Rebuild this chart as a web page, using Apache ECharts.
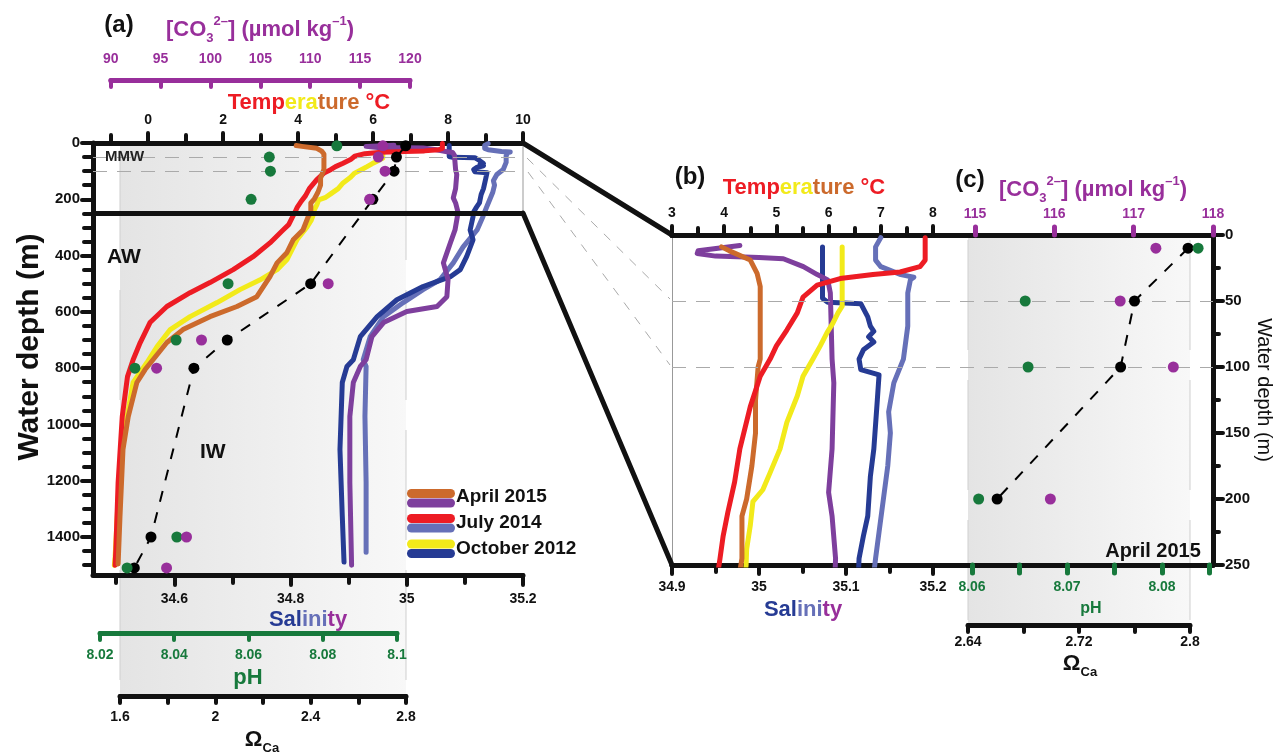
<!DOCTYPE html>
<html><head><meta charset="utf-8">
<script src="https://cdn.jsdelivr.net/npm/echarts@6/dist/echarts.min.js"></script>
<style>html,body{margin:0;padding:0;background:#fff}#c{width:1275px;height:753px}</style>
</head><body><div id="c"></div>
<script>
// ---------------- DATA (value, depth in m) ----------------
const tempApril2015 = [[3.95,9],[4.1,12],[4.5,19],[4.63,29],[4.69,39],[4.69,94],[4.65,100],[4.6,125],[4.6,150],[4.53,175],[4.43,200],[4.34,213],[4.34,245],[4.27,262],[4.13,309],[3.87,344],[3.7,390],[3.44,426],[3.25,475],[2.9,546],[2.37,581],[1.65,617],[0.93,663],[0.5,709],[0.13,770],[-0.08,805],[-0.3,851],[-0.53,972],[-0.67,1089],[-0.75,1326],[-0.8,1496]];
const tempJuly2014 = [[7.85,2],[7.85,19],[7.75,24],[7.37,28],[6.85,30],[6.22,33],[5.78,38],[5.51,47],[5.4,59],[5.2,72],[5.0,84],[4.88,94],[4.69,107],[4.5,130],[4.3,162],[4.2,187],[4.07,210],[3.98,228],[3.92,245],[3.75,290],[3.6,309],[3.25,355],[2.8,404],[2.27,450],[1.65,496],[1.12,532],[0.5,581],[0.05,638],[-0.21,709],[-0.4,770],[-0.55,830],[-0.69,972],[-0.8,1206],[-0.86,1443],[-0.88,1500]];
const tempOctober2012 = [[6.26,9],[6.26,54],[6.18,59],[6.08,67],[5.97,74],[5.84,84],[5.7,94],[5.51,107],[5.4,122],[5.2,142],[5.07,162],[4.88,180],[4.74,193],[4.55,202],[4.5,220],[4.43,238],[4.42,250],[4.35,275],[4.24,298],[3.97,344],[3.7,415],[3.44,450],[2.99,486],[2.45,521],[1.84,567],[1.12,617],[0.59,663],[0.24,723],[-0.03,780],[-0.4,851],[-0.56,972],[-0.69,1089],[-0.8,1266],[-0.88,1468],[-0.9,1500]];
const salApril2015 = [[34.978,8],[34.93,12],[34.929,14],[34.95,16],[35.0,17],[35.028,18],[35.051,24],[35.067,30],[35.079,34],[35.082,44],[35.084,94],[35.086,112],[35.084,162],[35.08,195],[35.084,213],[35.088,245],[35.087,262],[35.083,309],[35.075,355],[35.063,426],[35.071,486],[35.069,546],[35.052,581],[35.0,599],[34.96,638],[34.94,688],[34.93,770],[34.92,794],[34.908,851],[34.902,972],[34.902,1206],[34.905,1500]];
const salJuly2014 = [[35.14,2],[35.134,9],[35.134,19],[35.14,24],[35.163,30],[35.178,32],[35.174,34],[35.171,44],[35.171,69],[35.166,94],[35.155,112],[35.149,134],[35.151,150],[35.148,175],[35.143,200],[35.138,225],[35.134,245],[35.131,262],[35.121,309],[35.097,369],[35.08,426],[35.057,486],[35.028,521],[34.994,567],[34.96,617],[34.937,688],[34.925,770],[34.93,794],[34.928,972],[34.93,1206],[34.93,1454]];
const salOctober2012 = [[35.073,9],[35.073,48],[35.079,51],[35.117,52],[35.125,62],[35.128,69],[35.132,73],[35.126,77],[35.132,81],[35.12,87],[35.115,94],[35.117,102],[35.138,106],[35.136,125],[35.132,162],[35.128,183],[35.125,213],[35.12,228],[35.115,245],[35.114,262],[35.109,309],[35.114,344],[35.103,404],[35.092,450],[35.075,475],[35.028,510],[34.983,557],[34.949,617],[34.92,688],[34.908,770],[34.897,794],[34.889,851],[34.885,1089],[34.889,1326],[34.892,1489]];

const stationDepths = [10, 50, 100, 200, 500, 700, 800, 1400, 1510];
const pHApril2015 = [8.0838, 8.0656, 8.0659, 8.0607, 8.0545, 8.0405, 8.0294, 8.0407, 8.0273];
const co3April2015 = [117.28, 116.83, 117.5, 115.95, 111.8, 99.1, 94.6, 97.6, 95.6];
const omegaApril2015 = [2.7986, 2.760, 2.750, 2.661, 2.40, 2.05, 1.91, 1.73, 1.66];

// ---------------- TICKS ----------------
const tempTicksA = [0,2,4,6,8,10], tempMinorA = [-1,1,3,5,7,9];
const salTicksA = [34.6,34.8,35,35.2], salMinorA = [34.5,34.7,34.9,35.1];
const depthTicksA = [0,200,400,600,800,1000,1200,1400];
const depthMinorA = [50,100,150,250,300,350,450,500,550,650,700,750,850,900,950,1050,1100,1150,1250,1300,1350,1450,1500];
const pHTicksA = [8.02,8.04,8.06,8.08,8.1];
const co3TicksA = [90,95,100,105,110,115,120];
const omegaTicksA = [1.6,1.8,2,2.2,2.4,2.6,2.8], omegaLabelsA = [1.6,2,2.4,2.8];
const tempTicksB = [3,4,5,6,7,8], tempMinorB = [3.5,4.5,5.5,6.5,7.5];
const salTicksB = [34.9,35,35.1,35.2], salMinorB = [34.95,35.05,35.15];
const depthTicksC = [0,50,100,150,200,250], depthMinorC = [25,75,125,175,225];
const co3TicksC = [115,116,117,118];
const pHTicksC = [8.06,8.065,8.07,8.075,8.08,8.085], pHLabelsC = [8.06,8.07,8.08];
const omegaTicksC = [2.64,2.68,2.72,2.76,2.8], omegaLabelsC = [2.64,2.72,2.8];

// ---------------- STYLE ----------------
const FF = '"Liberation Sans", Arial, Helvetica, sans-serif';
const C = {red:'#ed1c24', yel:'#f2ea1a', ora:'#cc6a2c', pur:'#7e3f9d', lb:'#6670b8', db:'#263b94', grn:'#17793c', mag:'#982f9b', blk:'#111111'};
const fmt = v => String(+(+v).toFixed(3));

function ax(o) {
  return {
    type: 'value', gridIndex: o.g, min: o.min, max: o.max, position: o.pos, offset: o.offset || 0,
    inverse: !!o.inverse, show: o.hidden ? false : true,
    axisLine: { show: !!o.line, onZero: false, lineStyle: o.line ? { color: o.line[0], width: o.line[1], cap: 'round' } : {} },
    axisTick: o.ticks ? { show: true, customValues: o.ticks, length: o.tickLen || 7, inside: !!o.tickInside,
      lineStyle: { color: o.tickColor || C.blk, width: o.tickWidth || 4, cap: 'round' } } : { show: false },
    axisLabel: o.labels ? { show: true, customValues: o.labels, color: o.labelColor || C.blk, fontSize: o.labelSize || 14,
      fontWeight: 'bold', fontFamily: FF, margin: o.margin || 8, formatter: fmt } : { show: false },
    splitLine: { show: false }, minorTick: { show: false }, minorSplitLine: { show: false }
  };
}
const gridDef = (l, t, w, h) => ({left: l, top: t, width: w, height: h, containLabel: false, outerBoundsMode: 'none', show: false});

const DA = 1535, DC = 250;
const grid = [
  gridDef(93, 143, 430, 432),     // 0 panel a
  gridDef(100, 143, 297, 432),    // 1 a pH
  gridDef(110.7, 143, 299.3, 432),// 2 a CO3
  gridDef(120, 143, 286, 432),    // 3 a Omega
  gridDef(672, 235, 541, 330),    // 4 b/c box
  gridDef(672, 235, 261, 330),    // 5 b
  gridDef(975, 235, 238, 330),    // 6 c CO3
  gridDef(972, 235, 237.5, 330),  // 7 c pH
  gridDef(968, 235, 222, 330)     // 8 c Omega
];
const xAxis = [
  ax({g:0, min:-1.47, max:10, pos:'top', line:[C.blk,5], ticks:tempTicksA, tickLen:10, labels:tempTicksA, margin:16}), //0
  ax({g:0, min:-1.47, max:10, pos:'top', ticks:tempMinorA, tickLen:8}), //1
  ax({g:0, min:34.46, max:35.2, pos:'bottom', line:[C.blk,5], ticks:salTicksA, tickLen:10, labels:salTicksA, margin:17}), //2
  ax({g:0, min:34.46, max:35.2, pos:'bottom', ticks:salMinorA, tickLen:8}), //3
  ax({g:1, min:8.02, max:8.1, pos:'bottom', offset:58, line:[C.grn,5], ticks:pHTicksA, tickLen:7, tickColor:C.grn, labels:pHTicksA, labelColor:C.grn, margin:15}), //4
  ax({g:2, min:90, max:120, pos:'top', offset:63, line:[C.mag,5], ticks:co3TicksA, tickLen:7, tickInside:true, tickColor:C.mag, labels:co3TicksA, labelColor:C.mag, margin:14}), //5
  ax({g:3, min:1.6, max:2.8, pos:'bottom', offset:121, line:[C.blk,5], ticks:omegaTicksA, tickLen:7, labels:omegaLabelsA, margin:14}), //6
  ax({g:4, min:0, max:1, pos:'top', line:[C.blk,5]}), //7
  ax({g:4, min:0, max:1, pos:'bottom', line:[C.blk,5]}), //8
  ax({g:5, min:3, max:8, pos:'top', line:[C.blk,5], ticks:tempTicksB, tickLen:9, labels:tempTicksB, margin:15}), //9
  ax({g:5, min:3, max:8, pos:'top', ticks:tempMinorB, tickLen:7}), //10
  ax({g:5, min:34.9, max:35.2, pos:'bottom', line:[C.blk,5], ticks:salTicksB, tickLen:9, labels:salTicksB, margin:15}), //11
  ax({g:5, min:34.9, max:35.2, pos:'bottom', ticks:salMinorB, tickLen:7}), //12
  ax({g:6, min:115, max:118, pos:'top', ticks:co3TicksC, tickLen:8, tickWidth:5, tickColor:C.mag, labels:co3TicksC, labelColor:C.mag, margin:14}), //13
  ax({g:7, min:8.06, max:8.085, pos:'bottom', ticks:pHTicksC, tickLen:8, tickWidth:5, tickColor:C.grn, labels:pHLabelsC, labelColor:C.grn, margin:15}), //14
  ax({g:8, min:2.64, max:2.8, pos:'bottom', offset:60, line:[C.blk,5], ticks:omegaTicksC, tickLen:7, labels:omegaLabelsC, margin:10}) //15
];
const yAxis = [
  ax({g:0, min:0, max:DA, inverse:true, pos:'left', line:[C.blk,5], ticks:depthTicksA, tickLen:11, labels:depthTicksA, labelSize:15, margin:13}), //0
  ax({g:0, min:0, max:DA, inverse:true, pos:'left', ticks:depthMinorA, tickLen:9}), //1
  ax({g:1, min:0, max:DA, inverse:true, hidden:true}), //2
  ax({g:2, min:0, max:DA, inverse:true, hidden:true}), //3
  ax({g:3, min:0, max:DA, inverse:true, hidden:true}), //4
  ax({g:4, min:0, max:DC, inverse:true, pos:'right', line:[C.blk,5], ticks:depthTicksC, tickLen:10, labels:depthTicksC, labelSize:15, margin:12}), //5
  ax({g:4, min:0, max:DC, inverse:true, pos:'right', ticks:depthMinorC, tickLen:6}), //6
  ax({g:5, min:0, max:DC, inverse:true, pos:'left', line:['#999',1]}), //7
  ax({g:6, min:0, max:DC, inverse:true, hidden:true}), //8
  ax({g:7, min:0, max:DC, inverse:true, hidden:true}), //9
  ax({g:8, min:0, max:DC, inverse:true, hidden:true}) //10
];

const prof = (data, color, xi, yi) => ({type:'line', data, xAxisIndex:xi, yAxisIndex:yi, symbol:'none', showSymbol:false,
  silent:true, z:3, lineStyle:{color, width:5, cap:'round', join:'round'}});
const dots = (vals, depths, color, xi, yi) => ({type:'scatter', data: vals.map((v,i)=>[v, depths[i]]), xAxisIndex:xi, yAxisIndex:yi,
  symbolSize:11, itemStyle:{color, opacity:1}, silent:true, z:6});
const omegaLine = (vals, depths, xi, yi) => ({type:'line', data: vals.map((v,i)=>[v, depths[i]]), xAxisIndex:xi, yAxisIndex:yi,
  symbol:'circle', symbolSize:11, showSymbol:true, showAllSymbol:true, itemStyle:{color:'#000'},
  lineStyle:{color:'#000', width:2, type:[11,11]}, silent:true, z:5});
const dashML = d => ({yAxis:d, lineStyle:{type:[14,10], color:'#aaa', width:1}});

const nC = 4;
const series = [
  {type:'line', data:[], xAxisIndex:0, yAxisIndex:0, markLine:{silent:true, symbol:['none','none'], label:{show:false},
    data:[dashML(50), dashML(100), {yAxis:250, lineStyle:{type:'solid', color:C.blk, width:5}}]}},
  prof(salJuly2014, C.lb, 2, 0), prof(salOctober2012, C.db, 2, 0), prof(salApril2015, C.pur, 2, 0),
  prof(tempOctober2012, C.yel, 0, 0), prof(tempJuly2014, C.red, 0, 0), prof(tempApril2015, C.ora, 0, 0),
  dots(pHApril2015, stationDepths, C.grn, 4, 2),
  dots(co3April2015, stationDepths, C.mag, 5, 3),
  omegaLine(omegaApril2015, stationDepths, 6, 4),
  {type:'line', data:[], xAxisIndex:7, yAxisIndex:5, markLine:{silent:true, symbol:['none','none'], label:{show:false},
    data:[dashML(50), dashML(100)]}},
  prof(salJuly2014, C.lb, 11, 7), prof(salOctober2012, C.db, 11, 7), prof(salApril2015, C.pur, 11, 7),
  prof(tempOctober2012, C.yel, 9, 7), prof(tempApril2015, C.ora, 9, 7), prof(tempJuly2014, C.red, 9, 7),
  dots(co3April2015.slice(0,nC), stationDepths.slice(0,nC), C.mag, 13, 8),
  dots(pHApril2015.slice(0,nC), stationDepths.slice(0,nC), C.grn, 14, 9),
  omegaLine(omegaApril2015.slice(0,nC), stationDepths.slice(0,nC), 15, 10)
];

// ---------------- ANNOTATIONS ----------------
function txt(x, y, text, o) {
  o = o || {};
  return {type:'text', x, y, rotation: o.rot || 0, z: 30, silent: true,
    style: {text, fill: o.color || C.blk, font: (o.weight || 'bold') + ' ' + (o.size || 20) + 'px ' + FF,
      align: o.align || 'center', verticalAlign: 'middle', rich: o.rich}};
}
const rs = (color, size, extra) => Object.assign({fill: color, fontSize: size, fontWeight: 'bold', fontFamily: FF}, extra || {});
const tempRich = {r: rs(C.red, 22), y: rs(C.yel, 22), o: rs(C.ora, 22)};
const salRich = {a: rs(C.db, 22), b: rs(C.lb, 22), c: rs(C.mag, 22)};
const co3Rich = {m: rs(C.mag, 22, {lineHeight: 30}), s: rs(C.mag, 13, {verticalAlign: 'bottom', lineHeight: 14}), p: rs(C.mag, 13, {verticalAlign: 'top', lineHeight: 14})};
const omRich = {m: rs(C.blk, 22, {lineHeight: 30}), s: rs(C.blk, 13, {verticalAlign: 'bottom', lineHeight: 14})};
const co3Text = '{m|[CO}{s|3}{p|2–}{m|] (µmol kg}{p|–1}{m|)}';

const shade = (x, y, w, h) => ({type:'rect', shape:{x, y, width:w, height:h}, z:-10, silent:true,
  style:{fill: new echarts.graphic.LinearGradient(0, 0, 1, 0, [{offset:0, color:'#e4e4e4'}, {offset:1, color:'#f8f8f8'}])}});
const vline = (x, y1, y2) => ({type:'line', shape:{x1:x, y1, x2:x, y2}, z:-5, silent:true, style:{stroke:'#cfcfcf', lineWidth:1, lineDash:[110,30]}});
const sw = (y, color) => ({type:'rect', shape:{x:407, y, width:48, height:9, r:4.5}, z:30, silent:true, style:{fill: color}});

const graphic = [
  shade(120, 143, 286, 553), shade(968, 235, 222, 390),
  vline(120, 150, 690), vline(406, 150, 690), vline(968, 240, 620), vline(1190, 240, 620),
  {type:'polyline', shape:{points:[[523,143],[672,235]]}, z:25, silent:true, style:{stroke:C.blk, lineWidth:5, lineCap:'round', fill:null}},
  {type:'polyline', shape:{points:[[523,213],[672,565]]}, z:25, silent:true, style:{stroke:C.blk, lineWidth:5, lineCap:'round', fill:null}},
  {type:'line', shape:{x1:523, y1:143, x2:523, y2:213}, z:5, silent:true, style:{stroke:'#999', lineWidth:1}},
  {type:'line', shape:{x1:527, y1:158, x2:670, y2:299}, z:5, silent:true, style:{stroke:'#aaa', lineWidth:1, lineDash:[9,9]}},
  {type:'line', shape:{x1:528, y1:172, x2:670, y2:365}, z:5, silent:true, style:{stroke:'#aaa', lineWidth:1, lineDash:[9,9]}},
  sw(489, C.ora), sw(498.5, C.pur), sw(514, C.red), sw(523.5, C.lb), sw(539.5, C.yel), sw(549, C.db),
  txt(456, 497, 'April 2015', {align:'left', size:19}),
  txt(456, 523, 'July 2014', {align:'left', size:19}),
  txt(456, 549, 'October 2012', {align:'left', size:19}),
  txt(119, 25, '(a)', {size:24}),
  txt(260, 30, co3Text, {rich: co3Rich}),
  txt(309, 103, '{r|Temp}{y|era}{o|ture}{r| °C}', {rich: tempRich}),
  txt(105, 157, 'MMW', {align:'left', size:15, color:'#222'}),
  txt(107, 257, 'AW', {align:'left', size:21}),
  txt(200, 452, 'IW', {align:'left', size:21}),
  txt(308, 620, '{a|Sal}{b|ini}{c|ty}', {rich: salRich}),
  txt(248, 678, 'pH', {size:22, color:C.grn}),
  txt(262, 740, '{m|Ω}{s|Ca}', {rich: omRich}),
  txt(30, 347, 'Water depth (m)', {size:30, rot: Math.PI/2}),
  txt(690, 177, '(b)', {size:24}),
  txt(804, 188, '{r|Temp}{y|era}{o|ture}{r| °C}', {rich: tempRich}),
  txt(803, 610, '{a|Sal}{b|ini}{c|ty}', {rich: salRich}),
  txt(970, 180, '(c)', {size:24}),
  txt(1093, 190, co3Text, {rich: co3Rich}),
  txt(1091, 609, 'pH', {size:16, color:C.grn}),
  txt(1080, 664, '{m|Ω}{s|Ca}', {rich: omRich}),
  txt(1153, 551, 'April 2015', {size:20}),
  txt(1264, 390, 'Water depth (m)', {size:20, weight:'normal', rot: -Math.PI/2})
];

const chart = echarts.init(document.getElementById('c'), null, {renderer:'canvas', width:1275, height:753});
chart.setOption({animation:false, backgroundColor:'#fff', textStyle:{fontFamily:FF}, tooltip:{show:false},
  grid, xAxis, yAxis, series, graphic});
</script></body></html>
